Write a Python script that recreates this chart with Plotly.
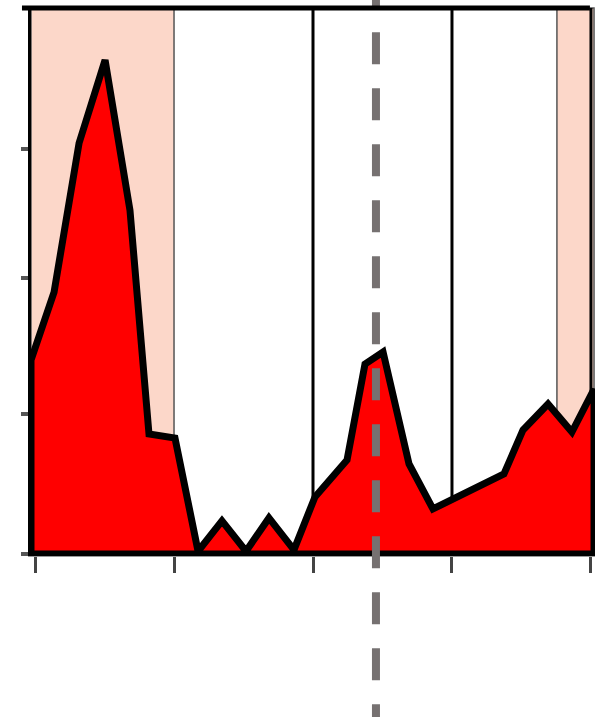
import plotly.graph_objects as go

# Series: sampled positions and values
x_vals = [-0.29, 1.37, 3.17, 5.04, 6.83, 8.2, 10.07, 11.73, 13.45, 15.18, 16.83,
          18.63, 20.14, 22.45, 23.74, 25.04, 26.91, 28.63, 33.74, 35.11, 36.91,
          38.63, 40.22]
y_vals = [14.26, 19.26, 30.22, 36.32, 25.29, 8.82, 8.53, 0.2, 2.43, 0.2, 2.65,
          0.3, 4.19, 6.91, 13.97, 14.85, 6.62, 3.31, 5.88, 9.12, 11.03, 8.97, 12.13]

x_ticks = [0, 10, 20, 30, 40]
y_ticks = [0, 10.3, 20.3, 29.8]

# Shaded intervals and reference lines
shaded_spans = [(-0.29, 10.0), (37.55, 40.22)]
grid_lines = [20, 30, 40]
marker_x = 24.53

x_range = [-0.29, 40.29]
y_range = [-0.15, 40.15]

# Close the outline down to the baseline
poly_x = x_vals + [x_vals[-1], x_vals[0], x_vals[0]]
poly_y = y_vals + [0, 0, y_vals[0]]

fig = go.Figure()
fig.add_trace(go.Scatter(
    x=poly_x, y=poly_y, mode="lines", fill="toself",
    fillcolor="#FF0000", line=dict(color="black", width=7),
    hoverinfo="skip", showlegend=False,
))

shapes = []
for x0, x1 in shaded_spans:
    shapes.append(dict(type="rect", xref="x", yref="paper", x0=x0, x1=x1, y0=0, y1=1,
                       fillcolor="#FCD7C9", line=dict(color="#555555", width=1.5),
                       layer="below"))
for gx in grid_lines:
    shapes.append(dict(type="line", xref="x", yref="paper", x0=gx, x1=gx, y0=0, y1=1,
                       line=dict(color="black", width=3), layer="below"))
# Dashed marker line
shapes.append(dict(type="line", xref="x", yref="paper", x0=marker_x, x1=marker_x,
                   y0=1.058, y1=-0.294,
                   line=dict(color="#767171", width=8, dash="32px,24px"), layer="above"))
# Heavy top rule
shapes.append(dict(type="line", xref="paper", yref="paper", x0=-0.016, x1=0.991,
                   y0=1, y1=1, line=dict(color="black", width=5), layer="above"))

fig.update_layout(
    width=600, height=721,
    margin=dict(l=31, r=5, t=8, b=165),
    paper_bgcolor="white", plot_bgcolor="white",
    shapes=shapes, showlegend=False,
    xaxis=dict(range=x_range, tickvals=x_ticks, ticktext=["" for _ in x_ticks],
               ticks="outside", ticklen=16, tickwidth=3, tickcolor="#444444",
               showgrid=False, zeroline=False, showline=True,
               linecolor="#999999", linewidth=1),
    yaxis=dict(range=y_range, tickvals=y_ticks, ticktext=["" for _ in y_ticks],
               ticks="outside", ticklen=7, tickwidth=4, tickcolor="#555555",
               showgrid=False, zeroline=False, showline=True,
               linecolor="black", linewidth=3),
)

fig.write_html("out.html")
